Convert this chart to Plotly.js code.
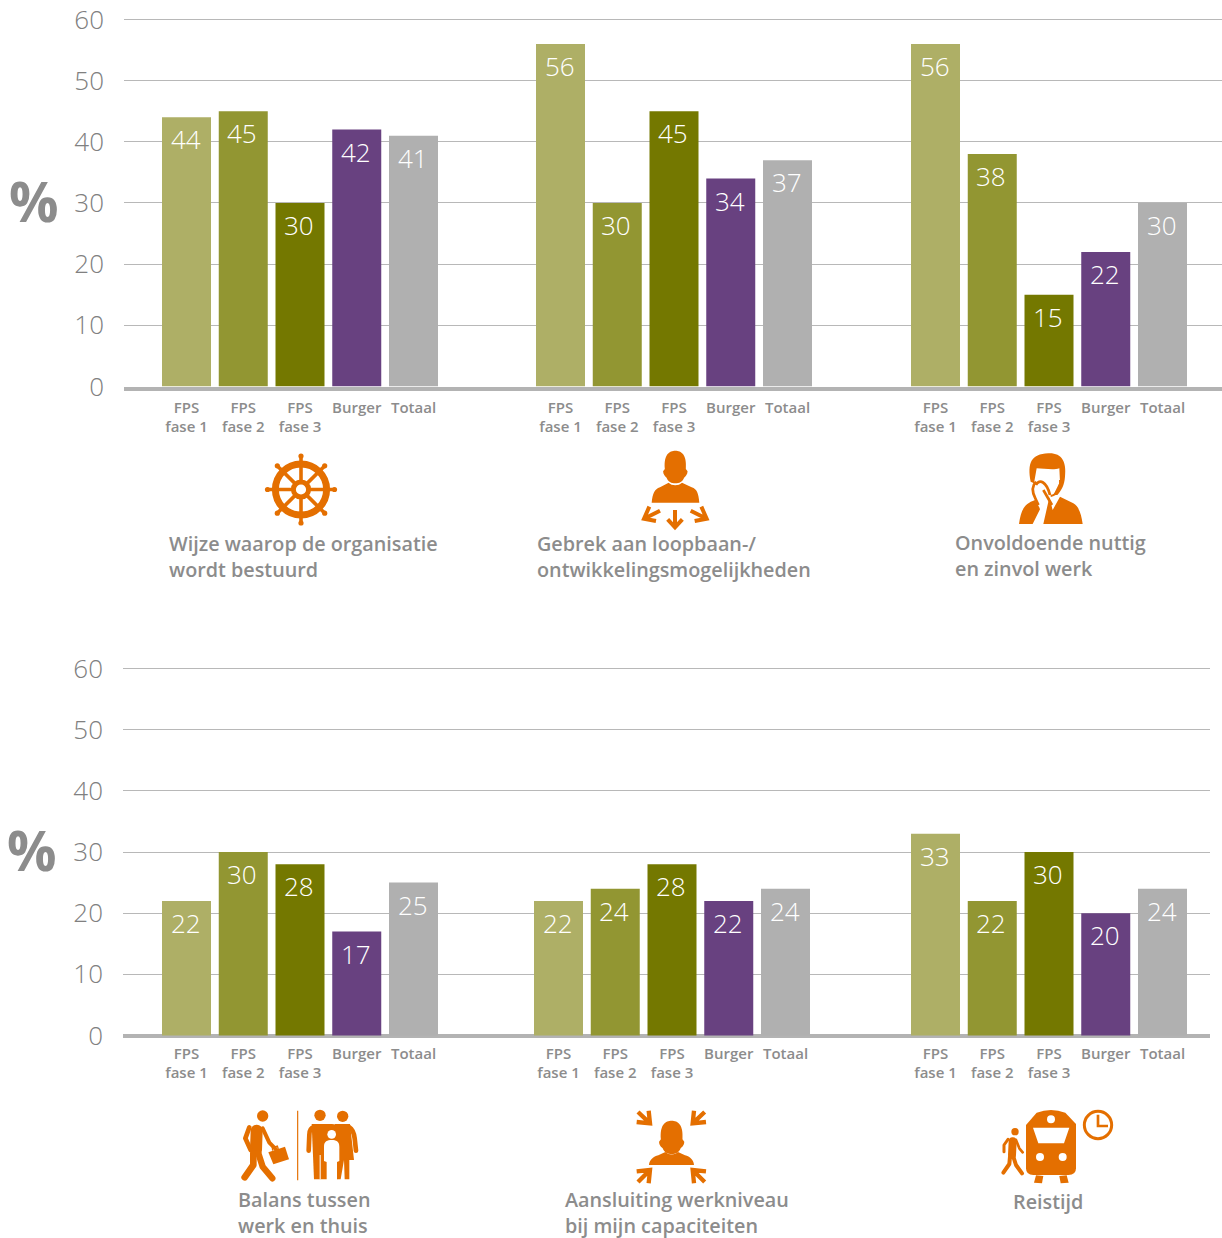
<!DOCTYPE html>
<html><head><meta charset="utf-8">
<script src="https://cdn.plot.ly/plotly-3.0.1.min.js"></script>
<style>html,body{margin:0;padding:0;background:#fff}</style>
</head><body><div id="chart" style="width:1222px;height:1238px"></div>
<script>
// ---- data ----
const seriesNames = ['FPS fase 1','FPS fase 2','FPS fase 3','Burger','Totaal'];
const tickNames = ['FPS<br>fase 1','FPS<br>fase 2','FPS<br>fase 3','Burger','Totaal'];
const seriesColors = ['#aeaf66','#929632','#747800','#684180','#b0b0b0'];
const yTicks = [0,10,20,30,40,50,60];
// one value per panel group, per series
const topFase1 = [44,56,56];
const topFase2 = [45,30,38];
const topFase3 = [30,45,15];
const topBurger = [42,34,22];
const topTotaal = [41,37,30];
const bottomFase1 = [22,22,33];
const bottomFase2 = [30,24,22];
const bottomFase3 = [28,28,30];
const bottomBurger = [17,22,20];
const bottomTotaal = [25,24,24];
const topTitles = ['Wijze waarop de organisatie<br>wordt bestuurd','Gebrek aan loopbaan-/<br>ontwikkelingsmogelijkheden','Onvoldoende nuttig<br>en zinvol werk'];
const bottomTitles = ['Balans tussen<br>werk en thuis','Aansluiting werkniveau<br>bij mijn capaciteiten','Reistijd'];

// ---- layout constants (page pixels) ----
const W=1222,H=1238, BAR=49, STEP=56.75;
const GREY='#808080', TITLE='#8c8c8c', ORANGE='#e46f00';
const topStarts=[186.5,560.5,935.5], bottomStarts=[186.5,558.5,935.5];
const px=x=>x/W, py=y=>1-y/H;
const numFont={family:'"Open Sans"',size:26,weight:300,color:GREY};
const tickFont={family:'"Open Sans"',size:15,weight:600,color:TITLE};
const titleFont={family:'"Open Sans"',size:19.8,weight:600,color:TITLE};

const traces=[], annotations=[], tickvals={x:[],x2:[]}, ticktext={x:[],x2:[]};
function panel(rows,starts,xa,ya){
  rows.forEach((vals,i)=>{
    const xs=starts.map(s=>s+STEP*i);
    traces.push({type:'bar',name:seriesNames[i],x:xs,y:vals,width:BAR,xaxis:xa,yaxis:ya,
      marker:{color:seriesColors[i],line:{width:0}},hoverinfo:'y+name',showlegend:false});
    xs.forEach((x,k)=>{
      tickvals[xa].push(x); ticktext[xa].push(tickNames[i]);
      annotations.push({xref:xa,yref:ya,x:x,y:vals[k],yshift:-22,xshift:-1,yanchor:'middle',xanchor:'center',
        text:String(vals[k]),showarrow:false,font:{family:'"Open Sans"',size:26,weight:300,color:'#ffffff'}});
    });
  });
}
panel([topFase1,topFase2,topFase3,topBurger,topTotaal],topStarts,'x','y');
panel([bottomFase1,bottomFase2,bottomFase3,bottomBurger,bottomTotaal],bottomStarts,'x2','y2');

function pageText(x,y,text,font,anchor,yanchor){
  annotations.push({xref:'paper',yref:'paper',x:px(x),y:py(y),xanchor:anchor||'left',yanchor:yanchor||'middle',align:'left',
    text:text,showarrow:false,font:font,borderpad:0});
}
const LH=12.9;
const lineLefts=[[168,542],[536,542],[954,541]], lineLeftsB=[[237,1197.5],[564,1197.5],[1012,1199.5]];
topTitles.forEach((t,i)=>pageText(lineLefts[i][0],lineLefts[i][1]-LH,t,titleFont,'left','top'));
bottomTitles.forEach((t,i)=>pageText(lineLeftsB[i][0],lineLeftsB[i][1]-LH,t,titleFont,'left','top'));
const pctFont={family:'"Open Sans"',size:55,weight:700,color:TITLE};
pageText(34,201,'%',pctFont,'center');
pageText(32,849,'%',pctFont,'center');

// ---- icons (decorative SVG pictograms) ----
const O=ORANGE;
function arrowPath(tx,ty,ax,ay,bx,by,cx,cy){return `M${ax},${ay}L${tx},${ty}L${bx},${by}M${tx},${ty}L${cx},${cy}`;}
function wheel(){ // box 80x80, centre 40,40
  let s='';
  for(let k=0;k<8;k++){const a=k*Math.PI/4,c=Math.cos(a),d=Math.sin(a);
    s+=`<line x1="${40+9*c}" y1="${40+9*d}" x2="${40+33*c}" y2="${40+33*d}" stroke="${O}" stroke-width="3.6"/>`;
    s+=`<circle cx="${40+33.5*c}" cy="${40+33.5*d}" r="2.6" fill="${O}"/>`;}
  s+=`<circle cx="40" cy="40" r="25.6" fill="none" stroke="${O}" stroke-width="7"/>`;
  s+=`<circle cx="40" cy="40" r="7.6" fill="none" stroke="${O}" stroke-width="5"/>`;
  return {box:[261,449.5,80,80],vb:'0 0 80 80',body:s};
}
const headPath=(x,y,k)=>`M${x-18*k},${y+5*k}C${x-20*k},${y-20*k} ${x-10*k},${y-26*k} ${x},${y-26*k}C${x+10*k},${y-26*k} ${x+20*k},${y-20*k} ${x+18*k},${y+5*k}L${x+21*k},${y+9*k}C${x+21*k},${y+15*k} ${x+17*k},${y+18*k} ${x+15*k},${y+20*k}C${x+11*k},${y+33*k} ${x-11*k},${y+33*k} ${x-15*k},${y+20*k}C${x-17*k},${y+18*k} ${x-21*k},${y+15*k} ${x-21*k},${y+9*k}Z`;
function careers(){ // crop coordinates 3x from (620,440)
  const s=`<path fill="${O}" d="${headPath(166,78,1.75)}"/>
  <path fill="${O}" d="M95,188C98,160 103,148 120,142L146,128C155,138 176,138 186,128L215,142C232,148 235,160 238,188Z"/>
  <g fill="none" stroke="${O}" stroke-width="12">
  <path d="${arrowPath(72,236,88,200,108,243,120,212)}"/>
  <path d="${arrowPath(260,236,244,200,224,243,212,212)}"/>
  <path d="M165,210L165,262M143,238L165,262L187,238"/></g>`;
  return {box:[620,440,120,100],vb:'0 0 360 300',body:s};
}
function thinker(){ // crop coordinates 3x from (1000,440)
  const s=`<g transform="translate(-1140,0)">
  <path fill="${O}" d="M1232,125C1222,70 1232,42 1285,40C1325,38 1340,65 1335,110C1333,135 1325,150 1312,165L1300,165L1320,125L1318,85C1300,92 1270,85 1250,85L1242,130Z"/>
  <path fill="none" stroke="${O}" stroke-width="8" d="M1248,125C1238,135 1233,150 1246,175C1250,183 1252,190 1256,195M1248,135C1258,115 1280,125 1290,165M1270,150L1296,195"/>
  <path fill="none" stroke="${O}" stroke-width="6" d="M1320,120C1322,145 1310,165 1292,168"/>
  <path fill="${O}" d="M1197,252C1203,210 1212,192 1245,180C1252,192 1258,200 1260,208L1238,252Z"/>
  <path fill="${O}" d="M1270,252L1288,172L1298,210L1320,170L1360,190C1378,200 1384,225 1388,252Z"/>
  </g>`;
  return {box:[1000,440,120,100],vb:'0 0 360 300',body:s};
}
function balance(){ // crop coordinates 3x from (220,1100)
  const s=`<g fill="none" stroke="${O}" stroke-linecap="round" stroke-linejoin="round">
  <circle cx="128" cy="48" r="17" fill="${O}" stroke="none"/>
  <path stroke-width="36" d="M110,92L108,150"/>
  <path stroke-width="14" d="M88,82L76,115L92,150"/>
  <path stroke-width="12" d="M128,85L148,128L168,148"/>
  <path stroke-width="20" d="M100,160L100,195L74,232"/>
  <path stroke-width="19" d="M115,160L128,200L157,235"/></g>
  <path fill="${O}" d="M145,157L195,140L207,178L160,193Z"/>
  <path fill="none" stroke="${O}" stroke-width="4" d="M158,152L157,143L172,138L175,147"/>
  <line x1="233" y1="32" x2="233" y2="241" stroke="${O}" stroke-width="3.5"/>
  <circle cx="300" cy="46" r="17" fill="${O}"/><circle cx="368" cy="49" r="17" fill="${O}"/>
  <g fill="none" stroke="${O}" stroke-linecap="round" stroke-linejoin="round">
  <path stroke-width="14" d="M282,82C272,84 268,95 268,105L266,152"/>
  <path stroke-width="14" d="M388,82C398,88 402,100 404,115L408,152"/></g>
  <path fill="${O}" d="M275,72L330,72C338,72 345,72 352,76L352,238L340,238L300,238L282,238Z"/>
  <path fill="${O}" d="M345,72L390,72L402,180L388,180L388,238L374,238L372,180L362,238L350,238Z"/>
  <rect x="299" y="165" width="3" height="73" fill="#fff"/>
  <circle cx="335" cy="103" r="13" fill="#fff"/>
  <path fill="#fff" d="M312,183L312,140C312,124 322,120 335,120C348,120 358,124 358,140L358,183L351,186L351,240L320,240L320,186Z"/>`;
  return {box:[220,1100,160,90],vb:'0 0 480 270',body:s};
}
function fit(){ // crop coordinates 3x from (620,1100)
  const s=`<path fill="${O}" d="${headPath(155,109,1.8)}"/>
  <path fill="${O}" d="M87,195C88,180 100,170 115,166L136,156C145,166 165,166 174,156L195,166C210,170 221,180 222,195Z"/>
  <g fill="none" stroke="${O}" stroke-width="13">
  <path d="${arrowPath(90,70,86,32,50,66,54,36)}"/>
  <path d="${arrowPath(218,70,222,32,258,66,254,36)}"/>
  <path d="${arrowPath(90,210,86,250,50,214,54,246)}"/>
  <path d="${arrowPath(218,210,222,250,258,214,254,246)}"/></g>`;
  return {box:[620,1100,110,90],vb:'0 0 330 270',body:s};
}
function travel(){ // crop coordinates 3x from (990,1100)
  const s=`<path fill="${O}" d="M140,38Q183,22 226,38L258,72L258,205Q258,225 235,225L130,225Q108,225 108,205L108,75Z"/>
  <circle cx="183" cy="58" r="12" fill="#fff"/><circle cx="150" cy="171" r="12" fill="#fff"/><circle cx="218" cy="171" r="12" fill="#fff"/>
  <path fill="#fff" d="M129,83L238,83L222,130L145,130Z"/>
  <path fill="${O}" d="M138,226L160,228L156,250L132,248Z"/><path fill="${O}" d="M208,228L230,226L236,248L212,250Z"/>
  <circle cx="324" cy="75" r="41" fill="none" stroke="${O}" stroke-width="9"/>
  <path fill="none" stroke="${O}" stroke-width="8" d="M324,44L324,78L354,78"/>
  <circle cx="75" cy="95" r="11" fill="${O}"/>
  <g fill="none" stroke="${O}" stroke-linecap="round" stroke-linejoin="round">
  <path stroke-width="24" d="M68,124L66,165"/><path stroke-width="9" d="M54,118L42,135L42,155"/>
  <path stroke-width="8" d="M78,120L88,145L98,157"/>
  <path stroke-width="12" d="M60,170L58,192L40,218"/><path stroke-width="12" d="M70,170L78,195L96,220"/></g>`;
  return {box:[990,1100,130,90],vb:'0 0 390 270',body:s};
}
const images=[wheel(),careers(),thinker(),balance(),fit(),travel()].map(ic=>{
  const [x,y,w,h]=ic.box;
  const svg=`<svg xmlns="http://www.w3.org/2000/svg" width="${w*3}" height="${h*3}" viewBox="${ic.vb}">${ic.body}</svg>`;
  return {source:'data:image/svg+xml;charset=utf-8,'+encodeURIComponent(svg),xref:'paper',yref:'paper',
    x:px(x),y:py(y),sizex:w/W,sizey:h/H,xanchor:'left',yanchor:'top',sizing:'stretch',layer:'above'};
});

function xAxis(key,a,b,line,off){return {domain:[a/W,b/W],range:[a,b],tickmode:'array',tickvals:tickvals[key],ticktext:ticktext[key],
  ticks:'',ticklen:0,tickfont:tickFont,showgrid:false,zeroline:false,showline:line,linecolor:'#b3b3b3',linewidth:4,fixedrange:true,ticklabelstandoff:off,tickangle:0};}
function yAxis(y0,perUnit,lo,hi,anchor,zero){return {domain:[py(y0-lo*perUnit),py(y0-hi*perUnit)],range:[lo,hi],tickmode:'array',tickvals:yTicks,ticktext:yTicks.map(String),
  tickfont:numFont,showgrid:true,gridcolor:'#b8b8b8',gridwidth:1,zeroline:zero,zerolinecolor:'#b3b3b3',zerolinewidth:4,showline:false,ticks:'',ticklabelstandoff:19,anchor:anchor,fixedrange:true};}

const layout={width:W,height:H,autosize:false,margin:{l:0,r:0,t:0,b:0,pad:0},paper_bgcolor:'#fff',plot_bgcolor:'rgba(0,0,0,0)',
  barmode:'overlay',showlegend:false,font:{family:'"Open Sans"',color:GREY},annotations:annotations,images:images,
  xaxis:xAxis('x',124,1222,true,4),yaxis:yAxis(386.5,6.117,0,61,'x',false),
  xaxis2:xAxis('x2',123,1210,false,1),yaxis2:yAxis(1035.5,6.115,-1,61,'x2',true)};
layout.xaxis.anchor='y';layout.xaxis2.anchor='y2';
Plotly.newPlot('chart',traces,layout,{displayModeBar:false,staticPlot:true});
</script></body></html>
